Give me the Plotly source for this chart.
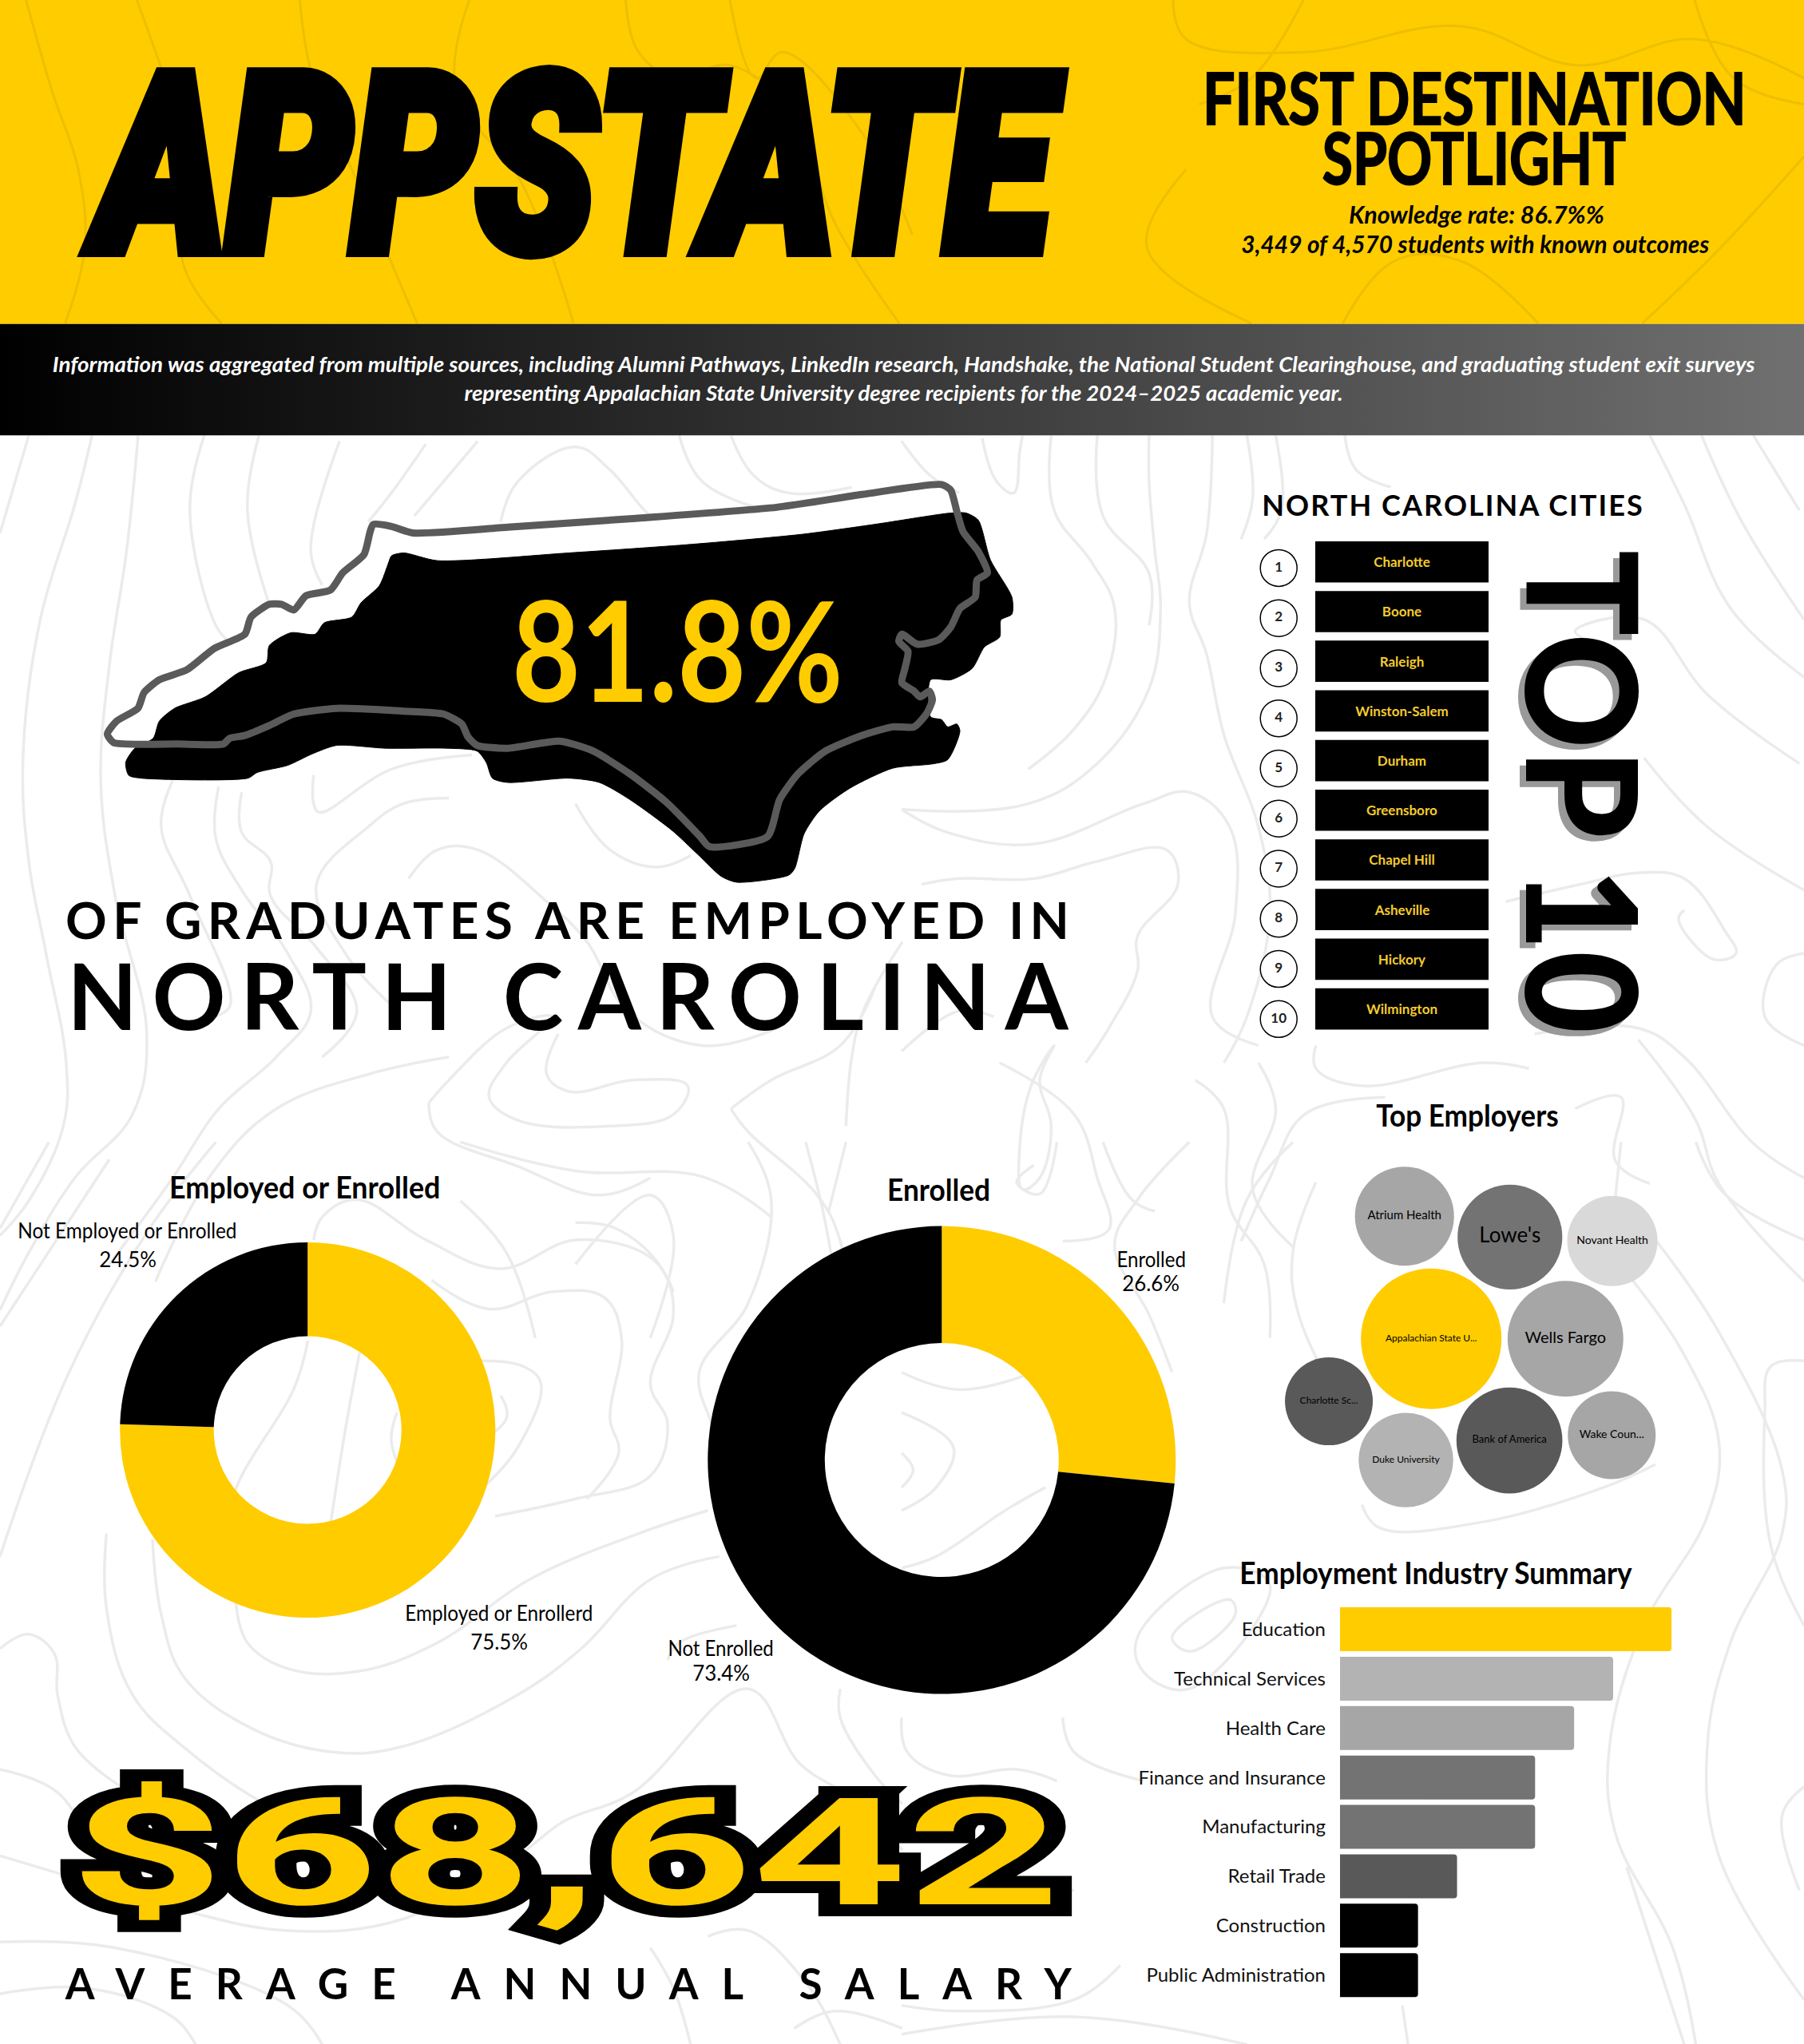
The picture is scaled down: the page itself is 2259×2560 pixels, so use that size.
"""
Appalachian State first destination infographic, rebuilt as one plotly page.
The page axis runs 0-1384 / 0-1568, everything else hangs off that.
"""

import json

import plotly.graph_objs as go

PAGE_W = 2259
PAGE_H = 2560
UNIT_W = 1384
UNIT_H = 1568

YELLOW = "#FFCC00"
BODY_FONT = "Lato"
HEAVY_FONT = "Roboto"

# donuts
EMPLOYED_LABELS = ["Employed or Enrollerd", "Not Employed or Enrolled"]
EMPLOYED_VALUES = [75.5, 24.5]
ENROLLED_LABELS = ["Enrolled", "Not Enrolled"]
ENROLLED_VALUES = [26.6, 73.4]

# top 10 cities
CITY_RANKS = [1, 2, 3, 4, 5, 6, 7, 8, 9, 10]
CITY_NAMES = ["Charlotte", "Boone", "Raleigh", "Winston-Salem", "Durham",
              "Greensboro", "Chapel Hill", "Asheville", "Hickory", "Wilmington"]

# industry bars
INDUSTRY_NAMES = ["Education", "Technical Services", "Health Care", "Finance and Insurance",
                  "Manufacturing", "Retail Trade", "Construction", "Public Administration"]
INDUSTRY_VALUES = [17, 14, 12, 10, 10, 6, 4, 4]
INDUSTRY_COLORS = [YELLOW, "#B3B3B3", "#A6A6A6", "#737373", "#737373", "#595959", "#000000", "#000000"]

# employer bubbles
EMPLOYER_NAMES = ["Atrium Health", "Lowe's", "Novant Health", "Appalachian State U...", "Wells Fargo",
                  "Charlotte Sc...", "Duke University", "Bank of America", "Wake Coun..."]
EMPLOYER_VALUES = [15.4, 17.2, 12.8, 31.0, 21.0, 12.1, 14.0, 17.6, 12.1]
EMPLOYER_X = [1077.5, 1158.4, 1237, 1098, 1201, 1019.5, 1078.6, 1158, 1236.5]
EMPLOYER_Y = [933, 949, 952, 1027, 1027, 1075, 1120, 1105, 1101]
EMPLOYER_COLORS = ["#A6A6A6", "#737373", "#D9D9D9", YELLOW, "#A6A6A6", "#595959", "#B3B3B3", "#595959", "#A6A6A6"]
EMPLOYER_TEXT = [15, 26, 14, 12, 20, 12, 12, 13, 14]

# state outline and its offset black copy
NC_OUTLINE_X = [480, 510, 545, 700, 900, 1140, 1280, 1410, 1425, 1435, 1445, 1470, 1485, 1468, 1465, 1440, 1425,
                1405, 1370, 1345, 1340, 1355, 1350, 1345, 1365, 1375, 1390, 1395, 1385, 1365, 1330, 1280, 1220,
                1175, 1145, 1125, 1030, 1015, 960, 900, 840, 785, 700, 650, 635, 625, 595, 530, 420, 350, 310,
                270, 245, 235, 160, 55, 45, 60, 95, 105, 130, 175, 220, 270, 280, 310, 330, 350, 370, 410, 430,
                465, 475, 480]
NC_OUTLINE_Y = [215, 222, 245, 225, 195, 155, 110, 75, 95, 170, 240, 310, 385, 410, 470, 510, 575,
                620, 635, 600, 625, 660, 720, 770, 800, 820, 800, 830, 880, 925, 925, 955, 1010,
                1090, 1180, 1310, 1345, 1310, 1190, 1090, 1010, 975, 1000, 990, 960, 915, 880, 870, 860, 880, 920,
                955, 965, 985, 985, 980, 950, 905, 860, 805, 760, 725, 650, 600, 540, 495, 495, 515, 465, 445, 385,
                320, 240, 215]
NC_SHADOW_X = [510, 530, 585, 800, 1000, 1180, 1300, 1425, 1450, 1470, 1490, 1525, 1525, 1507, 1505, 1480, 1460,
               1425, 1392, 1392, 1410, 1420, 1435, 1440, 1420, 1395, 1330, 1260, 1210, 1185, 1170, 1160, 1075,
               1050, 1010, 970, 900, 850, 800, 700, 675, 665, 650, 600, 500, 420, 380, 340, 290, 275, 100, 80,
               75, 90, 120, 130, 155, 205, 260, 305, 310, 345, 385, 400, 445, 460, 490, 505, 510]
NC_SHADOW_Y = [325, 315, 342, 315, 285, 250, 215, 175, 175, 200, 340, 470, 530, 550, 610, 645, 720,
               760, 760, 890, 900, 925, 915, 940, 1040, 1055, 1070, 1140, 1220, 1300, 1420, 1445, 1470,
               1450, 1370, 1290, 1180, 1120, 1105, 1120, 1105, 1050, 1010, 1000, 1000, 990, 1020, 1060, 1085, 1105,
               1105, 1095, 1050, 1000, 965, 905, 860, 820, 735, 700, 640, 595, 600, 560, 540, 490, 430, 350, 325]

# topographic lines, traced quadrant by quadrant in 1568-wide crops
CONTOURS_TOP_LEFT = [
    [(50, 0), (0, 170)],
    [(160, 0), (130, 120), (70, 320), (40, 560), (50, 740), (80, 900), (115, 1090), (110, 1200), (50, 1330), (0, 1390)],
    [(240, 0), (220, 200), (190, 400), (175, 600), (200, 800), (255, 1040), (230, 1180), (130, 1290), (50, 1420), (0, 1520)],
    [(355, 0), (330, 130), (375, 330), (400, 360)],
    [(450, 0), (430, 130), (470, 300)],
    [(590, 10), (540, 200), (560, 260)],
    [(300, 600), (280, 680), (330, 800), (400, 990), (370, 1010)],
    [(380, 610), (375, 700), (420, 790), (500, 900), (540, 1000), (480, 1080), (380, 1170), (300, 1290), (190, 1440)],
    [(420, 620), (420, 690), (470, 740), (470, 800), (550, 890), (620, 1000), (560, 1080)],
    [(740, 15), (680, 100), (640, 150)],
    [(830, 10), (720, 140)],
    [(870, 150), (900, 80), (1000, 20), (1060, 60), (1130, 140), (1180, 170)],
    [(1180, 0), (1220, 80), (1330, 130)],
    [(1270, 0), (1310, 70), (1370, 100), (1480, 90)],
    [(545, 590), (545, 640), (555, 655), (680, 580), (820, 555)],
    [(780, 630), (700, 640), (640, 680), (550, 780), (600, 900), (680, 990)],
    [(1000, 640), (1060, 720), (1140, 750), (1200, 730)],
    [(710, 770), (760, 720), (830, 720), (950, 810), (1020, 880), (1090, 1000), (1220, 1060), (1350, 1030)],
    [(780, 1080), (640, 1110), (480, 1170), (370, 1280), (270, 1470)],
    [(745, 1160), (780, 1120), (880, 1030), (960, 1010), (880, 1090), (850, 1150), (900, 1190), (1060, 1200),
     (1170, 1180), (1195, 1130), (1100, 1120), (990, 1140), (950, 1110), (970, 1040)],
    [(745, 1160), (760, 1210), (900, 1270), (1040, 1320), (1130, 1290)],
    [(1000, 1440), (1130, 1320), (1170, 1390), (1130, 1568)],
    [(1270, 1170), (1340, 1120), (1460, 1060), (1520, 960)],
    [(1270, 1170), (1300, 1210), (1420, 1320), (1460, 1400), (1480, 1560)],
    [(1470, 1200), (1480, 1080), (1500, 1000), (1568, 880)],
    [(800, 1330), (880, 1420), (930, 1568)],
]
CONTOURS_TOP_RIGHT = [
    [(0, 10), (50, 70), (100, 100)],
    [(140, 5), (165, 80), (195, 100), (205, 30), (210, 0)],
    [(260, 0), (265, 130), (330, 220), (370, 300), (355, 420), (300, 510), (220, 580)],
    [(340, 0), (350, 140), (430, 240), (430, 330)],
    [(430, 0), (430, 80), (440, 200), (450, 300), (430, 440), (340, 570), (220, 640), (0, 650)],
    [(540, 0), (530, 170), (500, 290), (530, 380), (560, 520), (620, 680), (640, 830), (600, 1010), (560, 1090)],
    [(600, 0), (610, 110), (590, 180)],
    [(650, 0), (660, 130), (630, 180)],
    [(770, 0), (790, 60), (850, 90)],
    [(1300, 0), (1360, 120), (1440, 300), (1568, 420)],
    [(1390, 0), (1460, 150), (1568, 320)],
    [(1480, 0), (1560, 130)],
    [(1200, 360), (1170, 340), (1290, 320), (1400, 450), (1560, 570)],
    [(1290, 560), (1400, 680), (1568, 790)],
    [(0, 650), (80, 690), (230, 710), (420, 640), (500, 620), (570, 680), (580, 830), (540, 1010), (620, 1060)],
    [(35, 780), (100, 770), (230, 770), (340, 740), (460, 720), (480, 780), (410, 870), (410, 930), (360, 1030), (320, 1090)],
    [(720, 1060), (720, 1100), (800, 1130), (1010, 1090), (1090, 1100)],
    [(1050, 810), (1180, 780), (1280, 760), (1360, 770), (1430, 860), (1450, 900), (1410, 910), (1350, 840), (1360, 825)],
    [(1100, 1040), (1280, 1030), (1360, 1080), (1480, 1230), (1568, 1290)],
    [(1280, 1050), (1380, 1190), (1420, 1300), (1568, 1470)],
    [(1568, 900), (1520, 920), (1500, 1010), (1568, 1060)],
    [(0, 1070), (100, 1000), (160, 1010)],
    [(265, 1060), (240, 1120), (260, 1200), (240, 1290), (210, 1310), (205, 1240), (225, 1130), (265, 1060)],
    [(170, 1090), (300, 1180), (340, 1290), (360, 1380), (280, 1400)],
    [(510, 1120), (560, 1170), (570, 1340), (630, 1440), (640, 1568)],
    [(620, 1090), (650, 1170), (610, 1310), (680, 1410)],
    [(840, 1150), (700, 1180), (640, 1290), (590, 1400)],
    [(1170, 1170), (1250, 1150), (1240, 1260), (1300, 1300)],
]
CONTOURS_BOTTOM_LEFT = [
    [(85, 0), (0, 150)],
    [(190, 30), (0, 320)],
    [(375, 0), (260, 150), (120, 400), (0, 720)],
    [(535, 345), (510, 430), (415, 590), (380, 700)],
    [(625, 365), (600, 500), (575, 660)],
    [(185, 680), (185, 810), (230, 960), (330, 1060), (460, 1150), (550, 1190)],
    [(265, 690), (280, 820), (320, 930), (440, 1020), (580, 1060), (700, 1050), (900, 960), (1010, 880), (1130, 760), (1250, 720)],
    [(410, 800), (430, 870), (500, 915), (620, 920), (760, 870), (920, 760), (1110, 680), (1230, 640)],
    [(860, 650), (1000, 620), (1130, 580), (1160, 490), (1130, 420), (1170, 300), (1150, 220), (1070, 150), (1000, 140)],
    [(830, 380), (910, 390), (940, 420), (900, 530), (840, 600)],
    [(750, 240), (850, 290), (960, 260), (1050, 270), (1080, 340), (1060, 480), (1075, 540), (1020, 620)],
    [(690, 470), (680, 520), (710, 600)],
    [(870, 440), (880, 480), (800, 540)],
    [(0, 880), (50, 855), (95, 890), (100, 960), (130, 1050), (210, 1120)],
    [(545, 170), (560, 130), (620, 100), (740, 170), (870, 220), (1000, 170), (1130, 200), (1170, 260)],
    [(0, 1090), (100, 1130), (170, 1240), (200, 1280)],
    [(0, 1240), (100, 1270), (300, 1330), (500, 1370), (700, 1350), (900, 1240), (980, 1180), (1100, 1130), (1300, 950),
     (1390, 1080), (1480, 1140), (1568, 1230)],
    [(0, 1390), (200, 1400), (500, 1500), (560, 1568)],
    [(0, 1480), (150, 1470), (300, 1520), (340, 1568)],
    [(1230, 1380), (1300, 1370), (1400, 1460), (1460, 1568)],
    [(1130, 1400), (1170, 1470), (1200, 1568)],
    [(1400, 0), (1430, 120), (1450, 230)],
    [(1470, 0), (1440, 120)],
    [(1300, 0), (1340, 100), (1300, 280), (1215, 400), (1240, 500), (1260, 580)],
    [(800, 0), (1000, 50), (1220, 60), (1340, 130)],
    [(1460, 950), (1460, 1000), (1520, 1100), (1568, 1150)],
    [(1280, 840), (1180, 870), (1160, 900)],
    [(1380, 1540), (1450, 1510), (1568, 1540)],
]
CONTOURS_BOTTOM_RIGHT = [
    [(0, 400), (100, 430), (230, 400)],
    [(0, 470), (90, 530), (60, 600), (0, 640)],
    [(0, 540), (20, 570), (0, 600)],
    [(0, 740), (60, 720), (180, 640), (250, 600)],
    [(0, 1000), (10, 1060), (80, 1100), (200, 1090), (270, 1110)],
    [(470, 860), (570, 795), (580, 820), (500, 885), (470, 860)],
    [(410, 860), (560, 740), (640, 770), (500, 950), (420, 920), (410, 860)],
    [(280, 1000), (300, 1060), (420, 1110)],
    [(0, 1300), (300, 1300)],
    [(0, 1500), (100, 1510), (300, 1490), (380, 1430)],
    [(1380, 0), (1430, 90), (1568, 170)],
    [(1270, 240), (1360, 370), (1420, 520), (1400, 650), (1290, 840), (1230, 1050), (1240, 1200), (1340, 1400), (1380, 1568)],
    [(1310, 170), (1420, 330), (1530, 570), (1530, 680), (1440, 870), (1400, 1050), (1420, 1240), (1568, 1490)],
    [(1568, 380), (1510, 390), (1500, 470), (1510, 700), (1568, 840)],
    [(1568, 1120), (1530, 1170), (1560, 1300)],
    [(680, 0), (600, 100), (560, 280)],
    [(720, 70), (680, 190), (690, 300), (790, 500)],
    [(500, 0), (410, 100), (370, 180), (430, 300), (470, 400)],
    [(350, 0), (400, 100), (440, 120)],
    [(800, 630), (830, 670), (1010, 660), (1220, 600), (1310, 560)],
    [(0, 1550), (300, 1520), (600, 1568)],
    [(230, 40), (200, 70), (240, 90), (270, 0)],
    [(1250, 0), (1240, 100)],
    [(1260, 1260), (1360, 1568)],
    [(870, 1500), (880, 1568)],
]
YELLOW_CONTOURS = [
    [(20, 0), (40, 70), (60, 130), (65, 190), (50, 248)],
    [(105, 0), (130, 70), (150, 130), (140, 200), (170, 248)],
    [(230, 0), (240, 60), (270, 130), (320, 248)],
    [(360, 0), (350, 70), (400, 140), (440, 248)],
    [(480, 0), (490, 40), (520, 60), (560, 50), (610, 90), (640, 170), (690, 248)],
    [(560, 0), (580, 60), (600, 40), (660, 100), (700, 180)],
    [(900, 0), (910, 30), (1000, 40), (1120, 20), (1210, 50), (1300, 30), (1384, 60)],
    [(910, 130), (880, 190), (960, 248)],
    [(1030, 248), (1070, 200), (1120, 200), (1180, 248)],
    [(1260, 248), (1320, 190), (1384, 120)],
    [(1000, 0), (960, 60), (920, 80)],
    [(1300, 0), (1330, 60), (1384, 80)],
]

fig = go.Figure()


def domain_x(left, right):
    return [left / UNIT_W, right / UNIT_W]


def domain_y(top, bottom):
    return [1 - bottom / UNIT_H, 1 - top / UNIT_H]


def hidden_axis(**kw):
    return dict(visible=False, fixedrange=True, **kw)


def add_contours(lines, left, top, scale, color, width):
    for line in lines:
        fig.add_trace(go.Scatter(x=[left + p[0] * scale for p in line], y=[top + p[1] * scale for p in line],
                                 mode="lines", line=dict(color=color, width=width, shape="spline", smoothing=1.1),
                                 hoverinfo="skip", showlegend=False))


# contours, header block, dark strip
crop = 1130 / 1568 / (PAGE_W / UNIT_W)
mid_x = 1129 * UNIT_W / PAGE_W
mid_y = 1430 * UNIT_W / PAGE_W
add_contours(CONTOURS_TOP_LEFT, 0, 334, crop, "#EBEBEB", 3.5)
add_contours(CONTOURS_TOP_RIGHT, mid_x, 334, crop, "#EBEBEB", 3.5)
add_contours(CONTOURS_BOTTOM_LEFT, 0, mid_y, crop, "#EBEBEB", 3.5)
add_contours(CONTOURS_BOTTOM_RIGHT, mid_x, mid_y, crop, "#EBEBEB", 3.5)
fig.add_trace(go.Scatter(x=[0, UNIT_W, UNIT_W, 0, 0], y=[0, 0, 248.5, 248.5, 0], mode="none", fill="toself",
                         fillcolor=YELLOW, hoverinfo="skip", showlegend=False))
add_contours(YELLOW_CONTOURS, 0, 0, 1, "#EDBF00", 3)
fig.add_trace(go.Scatter(x=[0, UNIT_W, UNIT_W, 0, 0], y=[248.5, 248.5, 334, 334, 248.5], mode="none", fill="toself",
                         fillgradient=dict(type="horizontal", colorscale=[[0, "#000000"], [1, "#707070"]]),
                         hoverinfo="skip", showlegend=False))

# state map, own axes so the traced numbers stay as read
fig.add_trace(go.Scatter(x=NC_OUTLINE_X, y=NC_OUTLINE_Y, xaxis="x2", yaxis="y2", mode="lines", fill="toself",
                         fillcolor="#FFFFFF", line=dict(color="#FFFFFF", width=1, shape="spline", smoothing=0.6),
                         hoverinfo="skip", showlegend=False))
fig.add_trace(go.Scatter(x=NC_SHADOW_X, y=NC_SHADOW_Y, xaxis="x2", yaxis="y2", mode="lines", fill="toself",
                         fillcolor="#000000", line=dict(color="#000000", width=1, shape="spline", smoothing=0.7),
                         hoverinfo="skip", showlegend=False))
fig.add_trace(go.Scatter(x=NC_OUTLINE_X, y=NC_OUTLINE_Y, xaxis="x2", yaxis="y2", mode="lines",
                         line=dict(color="#5A5A5A", width=9, shape="spline", smoothing=0.6),
                         hoverinfo="skip", showlegend=False))

# city bars and rank circles
fig.add_trace(go.Bar(x=[1] * len(CITY_NAMES), y=CITY_RANKS, orientation="h", xaxis="x3", yaxis="y3",
                     width=0.83, marker=dict(color="#000000", line=dict(width=0)),
                     text=CITY_NAMES, textposition="inside", insidetextanchor="middle", textangle=0,
                     insidetextfont=dict(family=BODY_FONT, size=17, color="#F5CB2E", weight=700),
                     hoverinfo="skip", showlegend=False))
fig.add_trace(go.Scatter(x=[0] * len(CITY_RANKS), y=CITY_RANKS, xaxis="x4", yaxis="y4", mode="markers+text",
                         marker=dict(size=46, color="#FFFFFF", line=dict(color="#000000", width=1.5)),
                         text=[str(r) for r in CITY_RANKS], textposition="middle center",
                         textfont=dict(family=BODY_FONT, size=17, color="#222222", weight=700),
                         hoverinfo="skip", showlegend=False))

# employer bubbles
fig.add_trace(go.Scatter(x=EMPLOYER_X, y=EMPLOYER_Y, mode="markers+text",
                         marker=dict(size=EMPLOYER_VALUES, sizemode="area", sizeref=0.002,
                                     color=EMPLOYER_COLORS, line=dict(width=0), opacity=1),
                         text=EMPLOYER_NAMES, textposition="middle center",
                         textfont=dict(family=BODY_FONT, size=EMPLOYER_TEXT, color="#000000", weight=400),
                         hoverinfo="skip", showlegend=False))

# industry bars
fig.add_trace(go.Bar(x=INDUSTRY_VALUES, y=INDUSTRY_NAMES, orientation="h", xaxis="x5", yaxis="y5",
                     width=0.888, marker=dict(color=INDUSTRY_COLORS, line=dict(width=0), cornerradius=4),
                     hoverinfo="skip", showlegend=False))

# donuts
fig.add_trace(go.Pie(labels=EMPLOYED_LABELS, values=EMPLOYED_VALUES, hole=0.5, sort=False,
                     direction="clockwise", rotation=0, textinfo="none", hoverinfo="skip", showlegend=False,
                     marker=dict(colors=[YELLOW, "#000000"], line=dict(width=0)),
                     domain=dict(x=domain_x(92, 380), y=domain_y(953, 1241))))
fig.add_trace(go.Pie(labels=ENROLLED_LABELS, values=ENROLLED_VALUES, hole=0.5, sort=False,
                     direction="clockwise", rotation=0, textinfo="none", hoverinfo="skip", showlegend=False,
                     marker=dict(colors=[YELLOW, "#000000"], line=dict(width=0)),
                     domain=dict(x=domain_x(543, 902), y=domain_y(940, 1300))))

annotations = []
text_fit = []


def add_text(text, x, y, size, width=None, adjust="spacing", color="#000000", family=BODY_FONT,
             weight=700, style="normal", angle=0, stroke=0, stroke_color="#000000", shadow=None):
    font = dict(family=family, size=size, color=color, weight=weight, style=style)
    if shadow:
        font["shadow"] = shadow
    annotations.append(dict(text=text, x=x, y=y, xref="x", yref="y", xanchor="center", yanchor="middle",
                            showarrow=False, align="center", textangle=angle, font=font))
    text_fit.append(dict(w=width * PAGE_W / UNIT_W if width else 0, a=adjust, s=stroke, c=stroke_color))


GLYPHS = "spacingAndGlyphs"

add_text("APPSTATE", 440.5, 127, 312, 733, GLYPHS, family=HEAVY_FONT, weight=900, style="italic", stroke=16)
add_text("FIRST DESTINATION", 1131, 74, 90, 417, GLYPHS, stroke=2)
add_text("SPOTLIGHT", 1131, 120, 90, 233, GLYPHS, stroke=2)
add_text("Knowledge rate: 86.7%%", 1133, 164, 30, 196, GLYPHS, style="italic")
add_text("3,449 of 4,570 students with known outcomes", 1132, 187, 30, 359, GLYPHS, style="italic")
add_text("Information was aggregated from multiple sources, including Alumni Pathways, LinkedIn research, "
         "Handshake, the National Student Clearinghouse, and graduating student exit surveys",
         693, 279, 27, 1306, GLYPHS, color="#FFFFFF", style="italic")
add_text("representing Appalachian State University degree recipients for the 2024\u20132025 academic year.",
         693, 301, 27, 674, GLYPHS, color="#FFFFFF", style="italic")

add_text("81.8%", 520, 497, 174, 254, GLYPHS, color=YELLOW)
add_text("OF GRADUATES ARE EMPLOYED IN", 435, 705, 64, 770)
add_text("NORTH CAROLINA", 436, 763, 114, 768)
add_text("NORTH CAROLINA CITIES", 1114, 387, 36, 292)
add_text("TOP 10", 1216.5, 607, 193, 371, GLYPHS, angle=90, weight=900, shadow="8px 8px 0 #999999")

add_text("Employed or Enrolled", 234, 910, 38, 208, GLYPHS)
add_text("Enrolled", 720, 912, 38, 79, GLYPHS)
add_text("Top Employers", 1126, 855, 38, 140, GLYPHS)
add_text("Employment Industry Summary", 1102, 1206, 38, 301, GLYPHS)

add_text(EMPLOYED_LABELS[1], 98, 944, 26, 168, GLYPHS, weight=400)
add_text(str(EMPLOYED_VALUES[1]) + "%", 98, 966, 26, 44, GLYPHS, weight=400)
add_text(EMPLOYED_LABELS[0], 383, 1237, 26, 144, GLYPHS, weight=400)
add_text(str(EMPLOYED_VALUES[0]) + "%", 383, 1259, 26, 44, GLYPHS, weight=400)
add_text(ENROLLED_LABELS[0], 883, 966, 26, 53, GLYPHS, weight=400)
add_text(str(ENROLLED_VALUES[0]) + "%", 883, 984, 26, 44, GLYPHS, weight=400)
add_text(ENROLLED_LABELS[1], 553, 1264, 26, 81, GLYPHS, weight=400)
add_text(str(ENROLLED_VALUES[1]) + "%", 553, 1283, 26, 44, GLYPHS, weight=400)

add_text("$68,642", 434, 1422, 187, 760, GLYPHS, color=YELLOW, family=HEAVY_FONT, weight=700, stroke=30)
add_text("AVERAGE ANNUAL SALARY", 436, 1521, 53, 772)

fig.update_layout(
    width=PAGE_W, height=PAGE_H, autosize=False,
    margin=dict(l=0, r=0, t=0, b=0, pad=0),
    paper_bgcolor="#FFFFFF", plot_bgcolor="rgba(0,0,0,0)",
    showlegend=False, hovermode=False, annotations=annotations,
    xaxis=hidden_axis(range=[0, UNIT_W], domain=[0, 1]),
    yaxis=hidden_axis(range=[UNIT_H, 0], domain=[0, 1]),
    # map, traced units of 1568 across a 1200x560 px window
    xaxis2=hidden_axis(range=[0, 1568], domain=[100 / PAGE_W, 1300 / PAGE_W], anchor="y2"),
    yaxis2=hidden_axis(range=[1568, 0], domain=[1 - 1140 / PAGE_H, 1 - 580 / PAGE_H], anchor="x2"),
    xaxis3=hidden_axis(range=[0, 1], domain=domain_x(1009, 1142), anchor="y3"),
    yaxis3=hidden_axis(range=[10.5, 0.5], domain=domain_y(412, 793), anchor="x3"),
    xaxis4=hidden_axis(range=[-1, 1], domain=domain_x(961, 1001), anchor="y4"),
    yaxis4=hidden_axis(range=[10.5, 0.5], domain=domain_y(416.5, 801), anchor="x4"),
    xaxis5=hidden_axis(range=[0, 17], domain=domain_x(1028, 1282.5), anchor="y5"),
    yaxis5=dict(categoryorder="array", categoryarray=INDUSTRY_NAMES[::-1], domain=domain_y(1230.9, 1534.1),
                anchor="x5", showline=False, showgrid=False, zeroline=False, ticks="", fixedrange=True,
                ticklabelstandoff=17, tickfont=dict(family=BODY_FONT, size=24, color="#111111", weight=400)),
)

# svg text fitting plotly does not expose: exact run widths, letter spacing, outlines
post_script = """
document.body.style.margin = '0';
var fit = %s;
document.querySelectorAll('.annotation-text').forEach(function (t, i) {
    var f = fit[i];
    if (!f) return;
    if (f.w) {
        t.setAttribute('textLength', f.w);
        t.setAttribute('lengthAdjust', f.a);
    }
    if (f.s) {
        t.style.stroke = f.c;
        t.style.strokeWidth = f.s + 'px';
        t.style.strokeLinejoin = 'miter';
        t.style.paintOrder = 'stroke';
    }
});
""" % json.dumps(text_fit)

fig.write_html("out.html", post_script=post_script, config=dict(displayModeBar=False))
